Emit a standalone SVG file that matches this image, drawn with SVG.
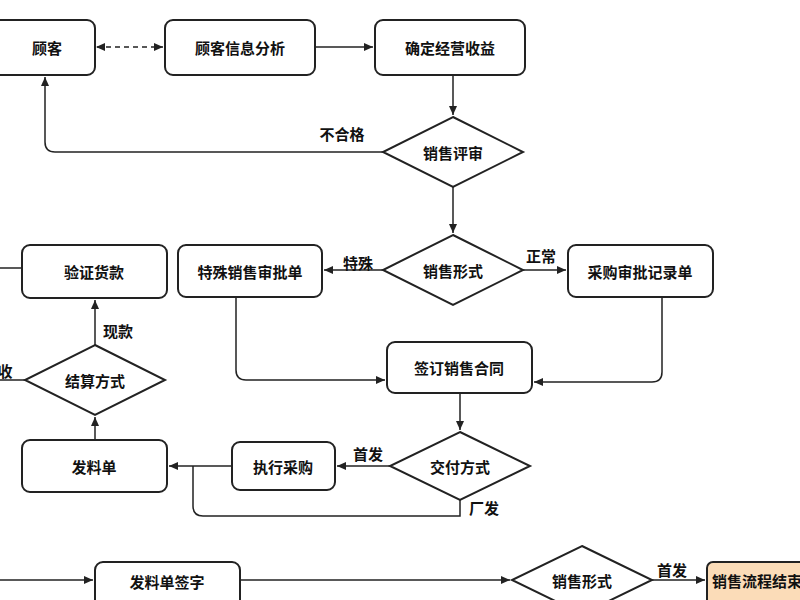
<svg xmlns="http://www.w3.org/2000/svg" width="800" height="600" viewBox="0 0 800 600">
<defs>
<marker id="a" markerWidth="10" markerHeight="10" refX="9" refY="5" orient="auto" markerUnits="userSpaceOnUse"><path d="M0,1 L9,5 L0,9 Z" fill="#222"/></marker>
<marker id="s" markerWidth="10" markerHeight="10" refX="1" refY="5" orient="auto" markerUnits="userSpaceOnUse"><path d="M9,1 L0,5 L9,9 Z" fill="#222"/></marker>
<style>
.n{fill:#fff;stroke:#222;stroke-width:2}
.t{font-family:"Noto Sans CJK SC","Noto Sans",sans-serif;font-size:15px;font-weight:bold;fill:#111;text-anchor:middle;dominant-baseline:central}
.l{font-family:"Noto Sans CJK SC","Noto Sans",sans-serif;font-size:15px;font-weight:bold;fill:#111;text-anchor:middle;dominant-baseline:central}
.c{fill:none;stroke:#222;stroke-width:1.5;marker-end:url(#a)}
.p{fill:none;stroke:#222;stroke-width:1.5}
</style>
</defs>
<rect width="800" height="600" fill="#fff"/>
<g id="connectors">
<path d="M97,47 H163" class="c" stroke-dasharray="5,4" marker-start="url(#s)"/>
<path d="M315,47 H373" class="c"/>
<path d="M453,75 V115" class="c"/>
<path d="M383,152 H55 Q45,152 45,142 V77" class="c"/>
<path d="M453,187 V233" class="c"/>
<path d="M383,270 H324" class="c"/>
<path d="M523,270 H566" class="c"/>
<path d="M236,297 V370 Q236,380 246,380 H385" class="c"/>
<path d="M662,297 V372 Q662,382 652,382 H534" class="c"/>
<path d="M460,393 V430" class="c"/>
<path d="M390,466 H337" class="c"/>
<path d="M232,466 H169" class="c"/>
<path d="M460,500 V516 H203 Q193,516 193,506 V466" class="p"/>
<path d="M95,440 V417" class="c"/>
<path d="M95,345 V300" class="c"/>
<path d="M25,380 H0" class="p"/>
<path d="M22,268 H0" class="p"/>
<path d="M0,580 H93" class="c"/>
<path d="M240,580 H510" class="c"/>
<path d="M652,580 H705" class="c"/>
</g>
<g id="labels">
<text x="342" y="133" class="l">不合格</text>
<text x="358" y="262" class="l">特殊</text>
<text x="541" y="255" class="l">正常</text>
<text x="368" y="453" class="l">首发</text>
<text x="484" y="507" class="l">厂发</text>
<text x="118" y="330" class="l">现款</text>
<text x="5" y="370" class="l">收</text>
<text x="672" y="569" class="l">首发</text>
</g>
<g id="n1"><rect x="-10" y="20" width="105" height="55" rx="8" class="n"/><text x="47" y="47" class="t">顾客</text></g>
<g id="n2"><rect x="165" y="20" width="150" height="55" rx="8" class="n"/><text x="240" y="47" class="t">顾客信息分析</text></g>
<g id="n3"><rect x="375" y="20" width="150" height="55" rx="8" class="n"/><text x="450" y="47" class="t">确定经营收益</text></g>
<g id="n4"><polygon points="453,117 523,152 453,187 383,152" class="n"/><text x="453" y="152" class="t">销售评审</text></g>
<g id="n5"><polygon points="453,235 523,270 453,305 383,270" class="n"/><text x="453" y="270" class="t">销售形式</text></g>
<g id="n6"><rect x="178" y="245" width="144" height="52" rx="8" class="n"/><text x="250" y="271" class="t">特殊销售审批单</text></g>
<g id="n7"><rect x="568" y="245" width="145" height="52" rx="8" class="n"/><text x="640" y="271" class="t">采购审批记录单</text></g>
<g id="n8"><rect x="22" y="245" width="145" height="53" rx="8" class="n"/><text x="94" y="271" class="t">验证货款</text></g>
<g id="n9"><rect x="387" y="342" width="145" height="51" rx="8" class="n"/><text x="459" y="367" class="t">签订销售合同</text></g>
<g id="n10"><polygon points="95,345 165,380 95,415 25,380" class="n"/><text x="95" y="380" class="t">结算方式</text></g>
<g id="n11"><rect x="22" y="440" width="145" height="52" rx="8" class="n"/><text x="94" y="466" class="t">发料单</text></g>
<g id="n12"><rect x="232" y="442" width="103" height="48" rx="8" class="n"/><text x="283" y="466" class="t">执行采购</text></g>
<g id="n13"><polygon points="460,432 530,466 460,500 390,466" class="n"/><text x="460" y="466" class="t">交付方式</text></g>
<g id="n14"><rect x="95" y="562" width="145" height="52" rx="8" class="n"/><text x="167" y="581" class="t">发料单签字</text></g>
<g id="n15"><polygon points="582,546 652,580 582,614 512,580" class="n"/><text x="582" y="580" class="t">销售形式</text></g>
<g id="n16"><rect x="707" y="562" width="120" height="52" rx="6" fill="#fbdcb8" stroke="#222" stroke-width="2"/><text x="712" y="580" class="t" style="text-anchor:start">销售流程结束</text></g>
</svg>
